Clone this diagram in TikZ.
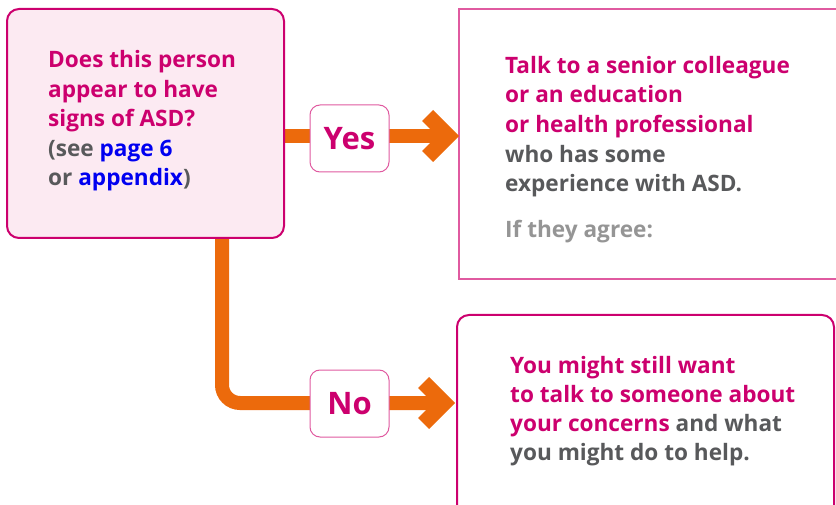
\documentclass[tikz,border=0pt]{standalone}
\usepackage{fontspec}
\setmainfont{Open Sans}
\usetikzlibrary{backgrounds}
\definecolor{mag}{HTML}{CC006E}
\definecolor{pinkfill}{HTML}{FCEAF2}
\definecolor{txtgray}{HTML}{58595B}
\definecolor{ltgray}{HTML}{959595}
\definecolor{lnkblue}{HTML}{0000F0}
\definecolor{orng}{HTML}{EC6A0C}
\definecolor{lblborder}{HTML}{E05AA0}
\tikzset{
  txt/.style={anchor=base west, inner sep=0pt, font=\fontsize{22.6}{26}\selectfont\bfseries},
  lbl/.style={draw=lblborder, line width=1pt, fill=white, rounded corners=10pt, minimum width=79pt, minimum height=67pt, inner sep=0pt, text=mag, font=\fontsize{31}{34}\selectfont\bfseries},
  bar/.style={draw=orng, line width=14pt},
  chev/.style={fill=orng, draw=none},
}
\begin{document}
\begin{tikzpicture}[x=1pt,y=-1pt]
\useasboundingbox (0,0) rectangle (836,505);
% boxes
\node[draw=mag, line width=2pt, fill=pinkfill, rounded corners=12pt, minimum width=277pt, minimum height=229pt, inner sep=0pt] (q) at (145.5,123.5) {};
\draw[draw=lblborder, line width=1.2pt] (836,9) -- (459,9) -- (459,279) -- (836,279);
\coordinate (tr) at (459,144);
\draw[draw=mag, line width=2pt, rounded corners=12pt] (457,520) -- (457,315) -- (834,315) -- (834,520);
\coordinate (br) at (457,403);
% labels
\node[lbl] (yes) at (349.5,138.5) {Yes};
\node[lbl] (no) at (349.5,403.5) {No};
\coordinate (ytip) at (459,136);
\coordinate (ntip) at (455,403);
\begin{pgfonlayer}{background}
\draw[bar] (q.east |- ytip) -- ([xshift=-20pt]ytip);
\draw[bar, rounded corners=18pt] ([xshift=216pt]q.south west) -- ([xshift=216pt]q.south west |- ntip) -- ([xshift=-20pt]ntip);
\end{pgfonlayer}
\fill[chev] (ytip) -- ++(-26,-26) -- ++(-11,11) -- ++(15,15) -- ++(-15,15) -- ++(11,11) -- cycle;
\fill[chev] (ntip) -- ++(-26,-26) -- ++(-11,11) -- ++(15,15) -- ++(-15,15) -- ++(11,11) -- cycle;
% left text
\node[txt, text=mag] (q1) at (48,68) {Does this person};
\node[txt, text=mag] (q2) at (48,97.5) {appear to have};
\node[txt, text=mag] (q3) at (48,127) {signs of ASD?};
\node[txt, text=txtgray] (q4) at (48,156.5) {(see \textcolor{lnkblue}{page 6}};
\node[txt, text=txtgray] (q5) at (48,186) {or \textcolor{lnkblue}{appendix})};
% top right text
\node[txt, text=mag] (t1) at (505,74) {Talk to a senior colleague};
\node[txt, text=mag] (t2) at (505,103) {or an education};
\node[txt, text=mag] (t3) at (505,132.5) {or health professional};
\node[txt, text=txtgray] (t4) at (505,162.5) {who has some};
\node[txt, text=txtgray] (t5) at (505,191.5) {experience with ASD.};
\node[txt, text=ltgray] (t6) at (505,237.5) {If they agree:};
% bottom right text
\node[txt, text=mag] (b1) at (510,373) {You might still want};
\node[txt, text=mag] (b2) at (510,402) {to talk to someone about};
\node[txt, text=mag] (b3) at (510,431) {your concerns \textcolor{txtgray}{and what}};
\node[txt, text=txtgray] (b4) at (510,460.5) {you might do to help.};
\end{tikzpicture}
\end{document}
